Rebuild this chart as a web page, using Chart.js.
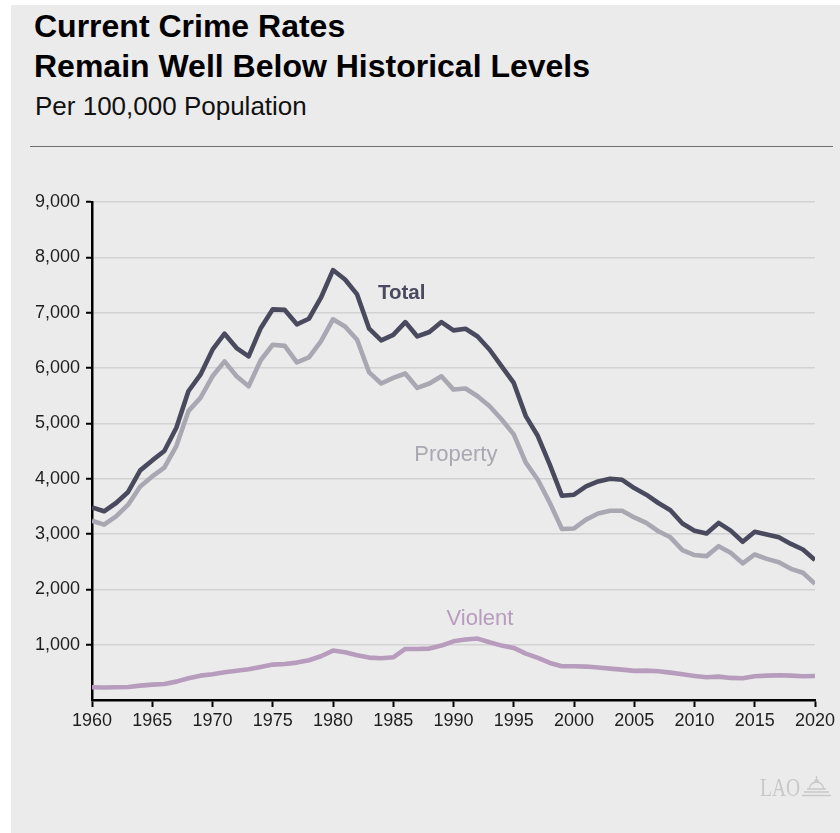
<!DOCTYPE html>
<html>
<head>
<meta charset="utf-8">
<script src="https://cdn.jsdelivr.net/npm/chart.js@4/dist/chart.umd.min.js"></script>
<style>
  html, body { margin: 0; padding: 0; background: #ffffff; }
  body { width: 840px; height: 833px; position: relative; overflow: hidden; font-family: "Liberation Sans", Arial, Helvetica, sans-serif; }
  #panel { position: absolute; left: 11px; top: 5px; width: 829px; height: 828px; background: #ebebeb; }
  #title { position: absolute; left: 34px; top: 6px; font-size: 32px; line-height: 40px; font-weight: bold; color: #000; }
  #subtitle { position: absolute; left: 35px; top: 93px; font-size: 26px; line-height: 26px; color: #111; }
  #rule { position: absolute; left: 30px; top: 146px; width: 803px; height: 0; border-top: 1.5px solid #6e6e6e; }
  #chart { position: absolute; left: 0; top: 0; }
</style>
</head>
<body>
<div id="panel"></div>
<div id="title">Current Crime Rates<br>Remain Well Below Historical Levels</div>
<div id="subtitle">Per 100,000 Population</div>
<div id="rule"></div>
<canvas id="chart" width="840" height="833"></canvas>
<script>
// Crime rates per 100,000 population, 1960–2020
const years = [
  1960, 1961, 1962, 1963, 1964, 1965, 1966, 1967, 1968, 1969,
  1970, 1971, 1972, 1973, 1974, 1975, 1976, 1977, 1978, 1979,
  1980, 1981, 1982, 1983, 1984, 1985, 1986, 1987, 1988, 1989,
  1990, 1991, 1992, 1993, 1994, 1995, 1996, 1997, 1998, 1999,
  2000, 2001, 2002, 2003, 2004, 2005, 2006, 2007, 2008, 2009,
  2010, 2011, 2012, 2013, 2014, 2015, 2016, 2017, 2018, 2019,
  2020
];

const totalRate = [
  3480, 3410, 3560, 3760, 4150, 4330, 4500, 4920, 5580, 5880,
  6330, 6620, 6360, 6210, 6720, 7060, 7050, 6790, 6890, 7270,
  7770, 7600, 7330, 6710, 6500, 6600, 6830, 6570, 6650, 6830,
  6680, 6710, 6570, 6330, 6030, 5730, 5130, 4770, 4250, 3690,
  3710, 3860, 3950, 4000, 3980, 3830, 3710, 3560, 3430, 3190,
  3060, 3010, 3200, 3060, 2860, 3040, 2990, 2940, 2820, 2720,
  2530
];

const propertyRate = [
  3240, 3170, 3320, 3530, 3860, 4040, 4200, 4590, 5220, 5460,
  5850, 6120, 5850, 5670, 6140, 6420, 6400, 6100, 6190, 6480,
  6880, 6750, 6510, 5920, 5720, 5820, 5900, 5640, 5720, 5850,
  5610, 5630, 5490, 5310, 5070, 4800, 4290, 3980, 3560, 3090,
  3100, 3260, 3370, 3420, 3420, 3300, 3200, 3050, 2940, 2710,
  2620, 2600, 2780, 2660, 2470, 2630, 2550, 2490, 2370, 2300,
  2100
];

const violentRate = [
  230, 225, 230, 236, 260, 278, 290, 332, 392, 440,
  464, 500, 530, 555, 598, 640, 652, 676, 718, 790,
  893, 862, 808, 766, 754, 772, 923, 923, 929, 983,
  1061, 1092, 1110, 1043, 983, 941, 839, 761, 670, 609,
  609, 604, 586, 567, 549, 526, 531, 519, 495, 464,
  435, 410, 423, 399, 393, 429, 441, 447, 441, 429,
  435
];

const seriesNames = ['Total', 'Property', 'Violent'];
const yTickValues = [1000, 2000, 3000, 4000, 5000, 6000, 7000, 8000, 9000];
const xTickYears = [1960, 1965, 1970, 1975, 1980, 1985, 1990, 1995, 2000, 2005, 2010, 2015, 2020];

const COLORS = { total: '#4a4a5f', property: '#a9a8b2', violent: '#b89cbd' };
const FONT = '"Liberation Sans", Arial, Helvetica, sans-serif';

const toPoints = vals => years.map((yr, i) => ({ x: yr, y: vals[i] }));

// In-chart series labels, anchored in data space
const seriesLabelAnchors = [
  { text: seriesNames[0], year: 1985.7, value: 7255, color: COLORS.total,    font: 'bold 20.5px ' + FONT },
  { text: seriesNames[1], year: 1990.2, value: 4314, color: COLORS.property, font: '22px ' + FONT },
  { text: seriesNames[2], year: 1992.2, value: 1350, color: COLORS.violent,  font: '22px ' + FONT }
];

const seriesLabels = {
  id: 'seriesLabels',
  afterDatasetsDraw(chart) {
    const { ctx, scales: { x, y } } = chart;
    seriesLabelAnchors.forEach(l => {
      ctx.save();
      ctx.font = l.font;
      ctx.fillStyle = l.color;
      ctx.textAlign = 'center';
      ctx.textBaseline = 'alphabetic';
      ctx.fillText(l.text, x.getPixelForValue(l.year), y.getPixelForValue(l.value));
      ctx.restore();
    });
  }
};

// Small "LAO" mark with a capitol dome in the lower right corner
const laoMark = {
  id: 'laoMark',
  afterDraw(chart) {
    const ctx = chart.ctx;
    ctx.save();
    ctx.fillStyle = '#c8c8c8';
    ctx.font = '25px "Liberation Serif", "Times New Roman", serif';
    ctx.textBaseline = 'alphabetic';
    ctx.translate(760, 796);
    ctx.scale(0.78, 1);
    ctx.fillText('LAO', 0, 0);
    ctx.restore();

    ctx.save();
    ctx.strokeStyle = '#c8c8c8';
    ctx.fillStyle = '#c8c8c8';
    ctx.lineWidth = 1.3;
    // lantern
    ctx.beginPath();
    ctx.moveTo(816.5, 776); ctx.lineTo(816.5, 780);
    ctx.stroke();
    ctx.fillRect(814.5, 779.5, 4, 3);
    // dome
    ctx.beginPath();
    ctx.arc(816.5, 789, 7, Math.PI, 0);
    ctx.stroke();
    // base and steps
    ctx.beginPath();
    ctx.moveTo(807, 789); ctx.lineTo(826, 789);
    ctx.moveTo(804, 792); ctx.lineTo(829, 792);
    ctx.moveTo(802, 795.5); ctx.lineTo(831, 795.5);
    ctx.stroke();
    ctx.restore();
  }
};

new Chart(document.getElementById('chart'), {
  type: 'line',
  data: {
    datasets: [
      { label: seriesNames[0], data: toPoints(totalRate), borderColor: COLORS.total },
      { label: seriesNames[1], data: toPoints(propertyRate), borderColor: COLORS.property },
      { label: seriesNames[2], data: toPoints(violentRate), borderColor: COLORS.violent }
    ]
  },
  options: {
    responsive: false,
    animation: false,
    devicePixelRatio: 1,
    layout: { padding: { left: 0, top: 202, right: 25, bottom: 0 } },
    elements: {
      line: { borderWidth: 4.6, tension: 0, borderJoinStyle: 'round', fill: false },
      point: { radius: 0, hoverRadius: 0 }
    },
    plugins: {
      legend: { display: false },
      title: { display: false },
      tooltip: { enabled: false }
    },
    scales: {
      x: {
        type: 'linear',
        min: 1960,
        max: 2020,
        afterFit(scale) { scale.height = 133; },
        afterBuildTicks(scale) { scale.ticks = xTickYears.map(v => ({ value: v })); },
        border: { display: true, color: '#000', width: 2.5 },
        grid: { drawOnChartArea: false, drawTicks: true, tickLength: 7, tickColor: '#000', tickWidth: 2 },
        ticks: {
          padding: 3,
          color: '#1e1e1e',
          font: { family: FONT, size: 18 },
          maxRotation: 0,
          autoSkip: false,
          callback: v => String(v)
        }
      },
      y: {
        min: 0,
        max: 9000,
        afterFit(scale) { scale.width = 92; },
        afterBuildTicks(scale) { scale.ticks = [{ value: 0 }].concat(yTickValues.map(v => ({ value: v }))); },
        border: { display: true, color: '#000', width: 2.5 },
        grid: {
          color: ctx => (ctx.tick && ctx.tick.value === 0) ? 'rgba(0,0,0,0)' : '#d2d2d2',
          lineWidth: 1.5,
          drawTicks: true,
          tickLength: 6,
          tickColor: ctx => (ctx.tick && ctx.tick.value === 0) ? 'rgba(0,0,0,0)' : '#000',
          tickWidth: 2
        },
        ticks: {
          padding: 6,
          color: '#1e1e1e',
          font: { family: FONT, size: 18 },
          callback: v => v === 0 ? '' : v.toLocaleString('en-US')
        }
      }
    }
  },
  plugins: [seriesLabels, laoMark]
});
</script>
</body>
</html>
